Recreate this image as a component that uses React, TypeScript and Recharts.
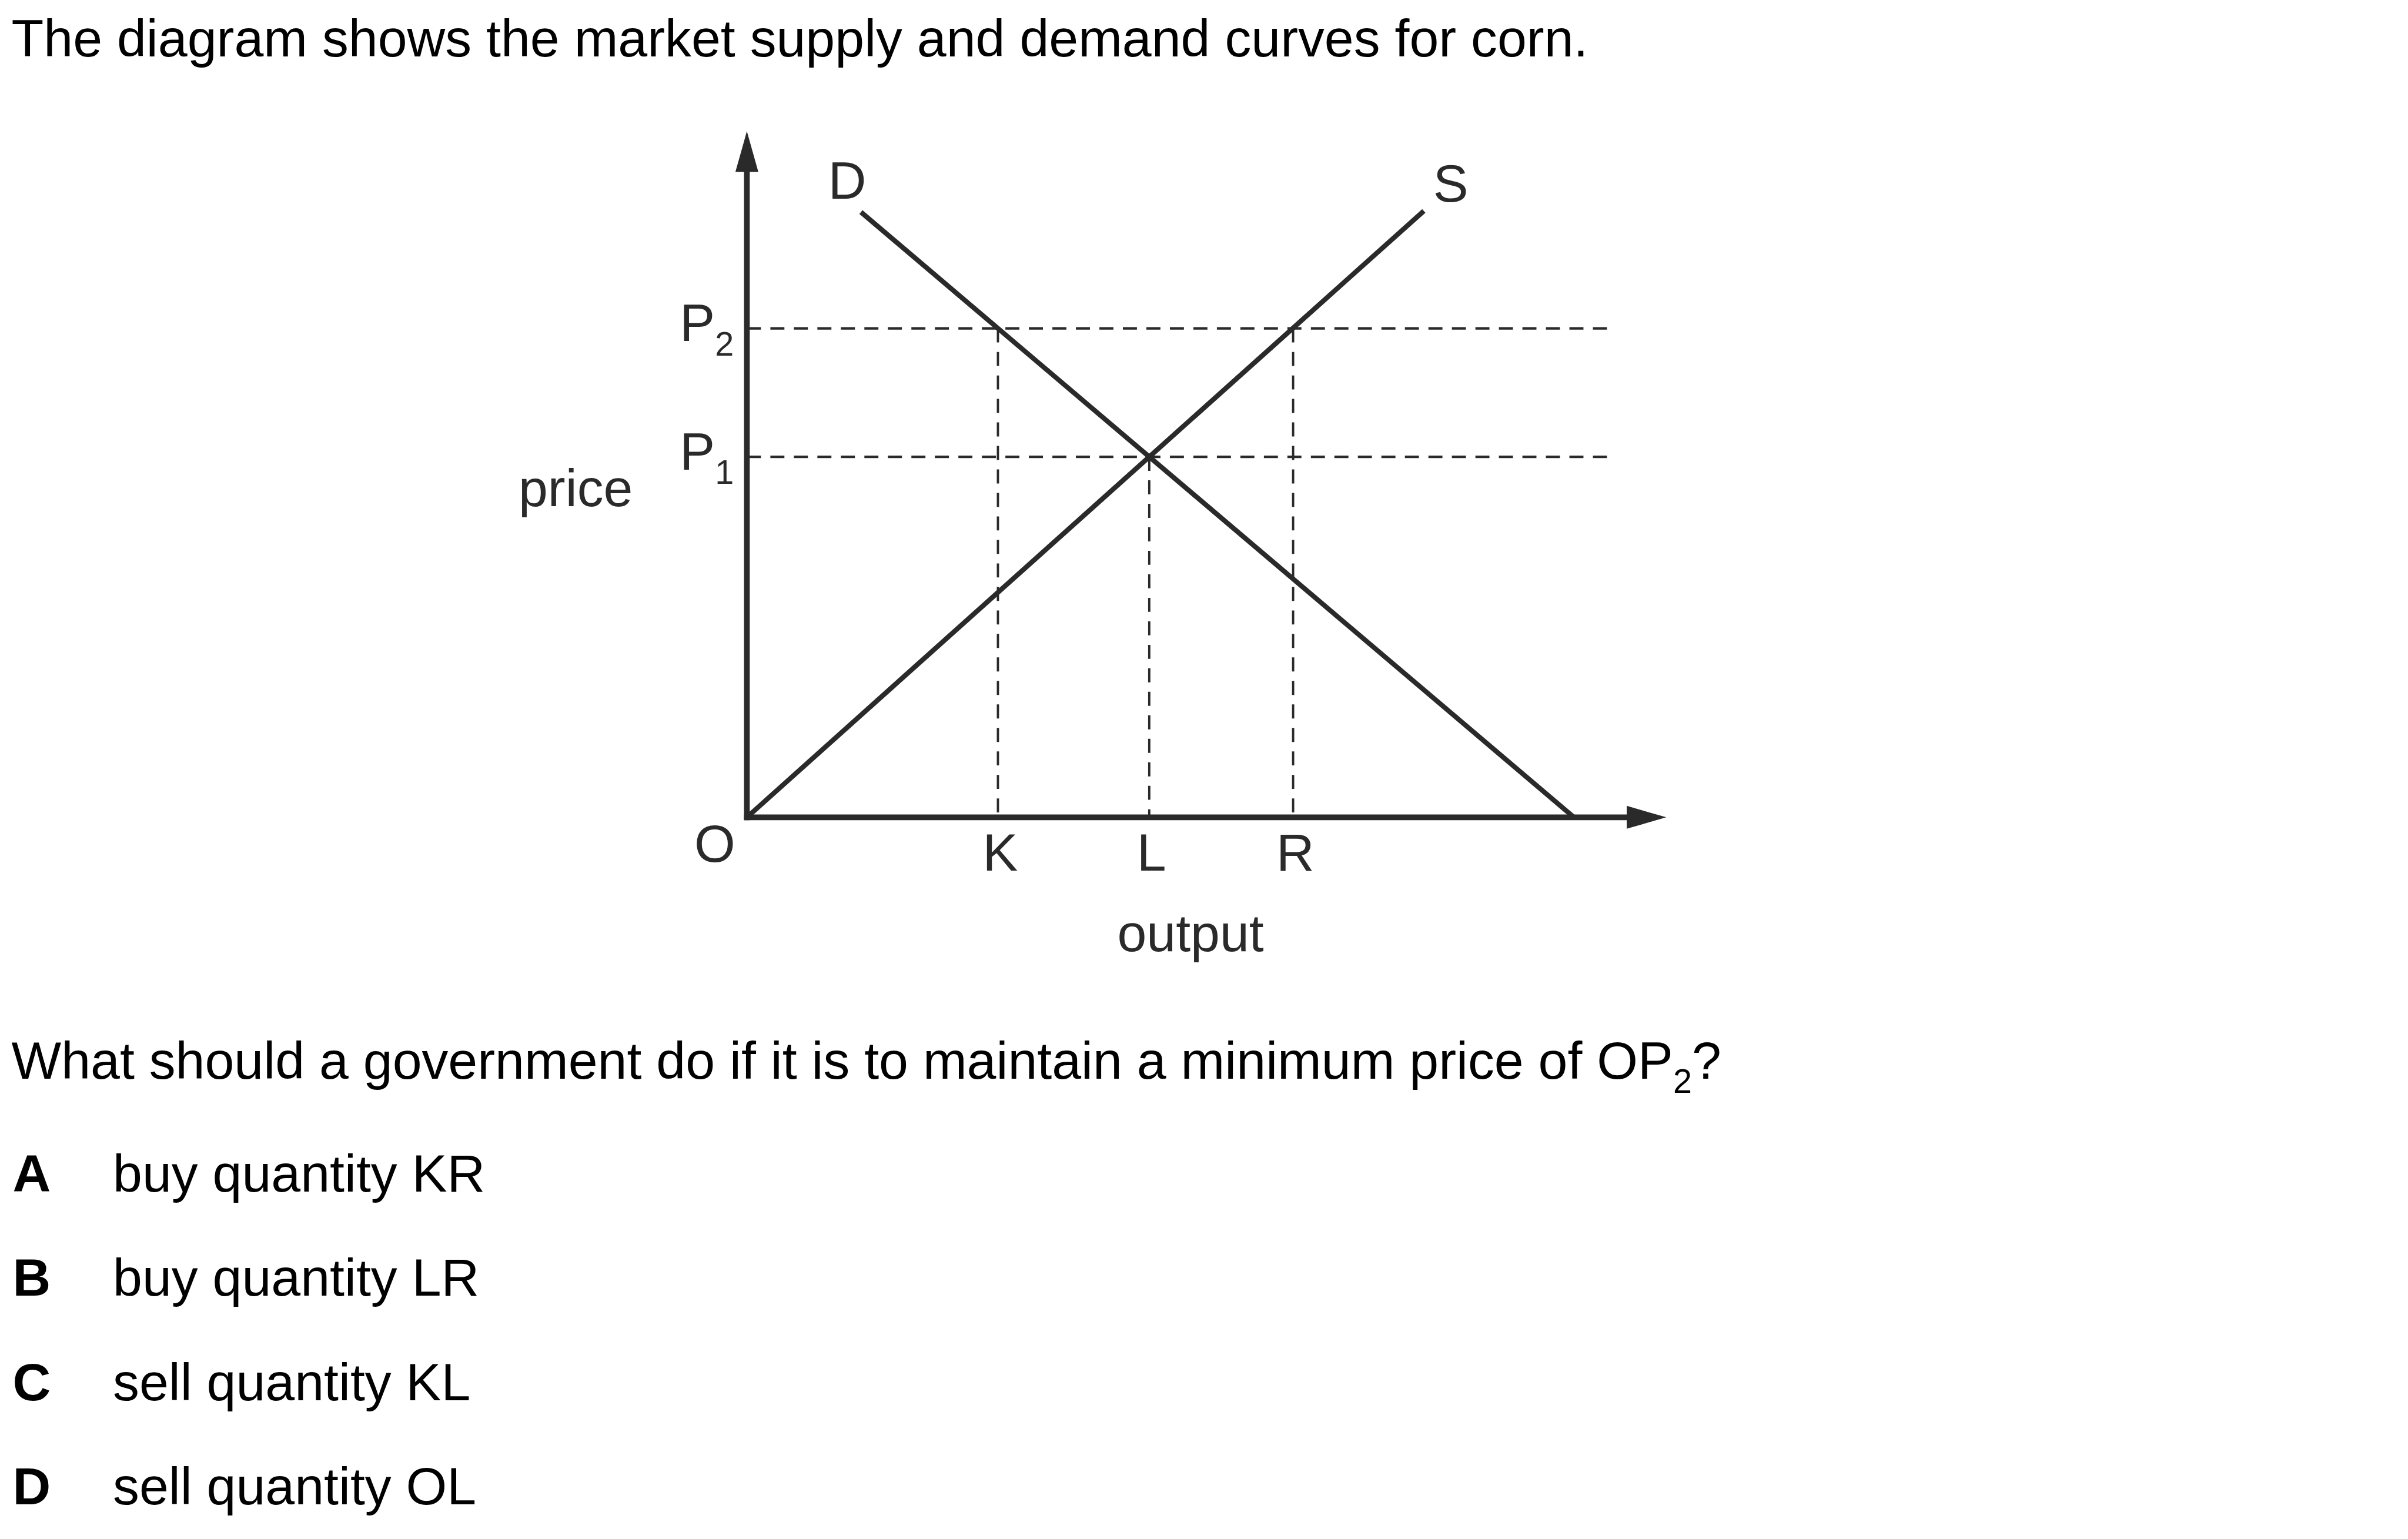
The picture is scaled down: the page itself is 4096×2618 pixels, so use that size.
import { LineChart, Line, XAxis, YAxis, ReferenceLine, ReferenceDot } from 'recharts'

// everything is drawn at 0.975 of the original figure
const S = 0.975
const r = (v: number) => v * S

// chart units: 1 unit = 10px of the original figure
const quantityTicks = [0, 43.8, 70.2, 95.3]
const quantityLabels = ['O', 'K', 'L', 'R']
const priceTicks = [62.9, 85.3]
const priceSubscripts = ['1', '2']

const demand = [
  { q: 19.9, p: 105.6 },
  { q: 144.3, p: 0 },
]
const supply = [
  { q: 0, p: 0 },
  { q: 118.1, p: 105.8 },
]

const qMax = 160.4
const pMax = 119.7
const guideEnd = 150.8

const optionLetters = ['A', 'B', 'C', 'D']
const optionTexts = ['buy quantity KR', 'buy quantity LR', 'sell quantity KL', 'sell quantity OL']

const W = 4096
const H = 2618
const FONT = '"Liberation Sans", Arial, Helvetica, sans-serif'
const INK = '#2a2a2a'
const TEXT_SIZE = r(92)
const SUB_SIZE = r(59)

const PLOT_LEFT = r(1303)
const PLOT_TOP = r(229)
const PLOT_BOTTOM = r(1426)
const PLOT_RIGHT = PLOT_LEFT + qMax * r(10)
const AXIS_W = 100
const AXIS_H = 100

const dash = `${r(24.5)} ${r(16.5)}`

const QuantityTick = (props: any) => {
  const { x, payload } = props
  const i = quantityTicks.indexOf(payload.value)
  const label = quantityLabels[i]
  if (i === 0) {
    return (
      <text x={x - r(56)} y={r(1504)} textAnchor="middle" fontFamily={FONT} fontSize={TEXT_SIZE} fill={INK}>
        {label}
      </text>
    )
  }
  return (
    <text x={x + r(4)} y={r(1519)} textAnchor="middle" fontFamily={FONT} fontSize={TEXT_SIZE} fill={INK}>
      {label}
    </text>
  )
}

const PriceTick = (props: any) => {
  const { y, payload } = props
  const i = priceTicks.indexOf(payload.value)
  return (
    <text x={r(1186)} y={y + r(22)} fontFamily={FONT} fontSize={TEXT_SIZE} fill={INK}>
      P
      <tspan fontSize={SUB_SIZE} dy={r(25)}>
        {priceSubscripts[i]}
      </tspan>
    </text>
  )
}

const curveLabel = (text: string, dx: number, dy: number) => (props: any) => (
  <text x={props.cx + r(dx)} y={props.cy + r(dy)} textAnchor="middle" fontFamily={FONT} fontSize={TEXT_SIZE} fill={INK}>
    {text}
  </text>
)

export default function App() {
  const [pLow, pHigh] = priceTicks
  const guides = [
    { q: quantityTicks[1], p: pHigh },
    { q: quantityTicks[2], p: pLow },
    { q: quantityTicks[3], p: pHigh },
  ]

  return (
    <div style={{ position: 'absolute', left: 0, top: 0, width: W, height: H, background: '#fff', overflow: 'hidden' }}>
      <div style={{ position: 'absolute', left: 0, top: 0 }}>
        <LineChart
          width={W}
          height={H}
          margin={{
            top: PLOT_TOP,
            left: PLOT_LEFT - AXIS_W,
            right: W - PLOT_RIGHT,
            bottom: H - PLOT_BOTTOM - AXIS_H,
          }}
        >
          <XAxis
            type="number"
            dataKey="q"
            domain={[0, qMax]}
            allowDataOverflow
            ticks={quantityTicks}
            interval={0}
            height={AXIS_H}
            axisLine={false}
            tickLine={false}
            tick={<QuantityTick />}
          />
          <YAxis
            type="number"
            domain={[0, pMax]}
            allowDataOverflow
            ticks={priceTicks}
            interval={0}
            width={AXIS_W}
            axisLine={false}
            tickLine={false}
            tick={<PriceTick />}
          />

          {/* dashed guides */}
          {priceTicks.map((p) => (
            <ReferenceLine
              key={'h' + p}
              segment={[{ x: 0, y: p }, { x: guideEnd, y: p }]}
              stroke={INK}
              strokeWidth={r(4.5)}
              strokeDasharray={dash}
              ifOverflow="visible"
            />
          ))}
          {guides.map((g) => (
            <ReferenceLine
              key={'v' + g.q}
              segment={[{ x: g.q, y: g.p }, { x: g.q, y: 0 }]}
              stroke={INK}
              strokeWidth={r(4)}
              strokeDasharray={dash}
              ifOverflow="visible"
            />
          ))}

          <Line data={demand} dataKey="p" stroke={INK} strokeWidth={r(8.5)} dot={false} isAnimationActive={false} />
          <Line data={supply} dataKey="p" stroke={INK} strokeWidth={r(8.5)} dot={false} isAnimationActive={false} />

          {/* axes with arrow heads */}
          <ReferenceLine
            segment={[{ x: -0.5, y: 0 }, { x: qMax - 6.5, y: 0 }]}
            stroke={INK}
            strokeWidth={r(10)}
            ifOverflow="visible"
          />
          <ReferenceLine
            segment={[{ x: 0, y: -0.5 }, { x: 0, y: pMax - 6.5 }]}
            stroke={INK}
            strokeWidth={r(10)}
            ifOverflow="visible"
          />
          <ReferenceDot
            x={qMax}
            y={0}
            ifOverflow="visible"
            shape={(p: any) => (
              <polygon
                points={`${p.cx},${p.cy} ${p.cx - r(69)},${p.cy - r(20)} ${p.cx - r(69)},${p.cy + r(20)}`}
                fill={INK}
              />
            )}
          />
          <ReferenceDot
            x={0}
            y={pMax}
            ifOverflow="visible"
            shape={(p: any) => (
              <polygon
                points={`${p.cx},${p.cy} ${p.cx - r(20)},${p.cy + r(71)} ${p.cx + r(20)},${p.cy + r(71)}`}
                fill={INK}
              />
            )}
          />

          {/* curve names */}
          <ReferenceDot x={demand[0].q} y={demand[0].p} ifOverflow="visible" shape={curveLabel('D', -24, -23)} />
          <ReferenceDot x={supply[1].q} y={supply[1].p} ifOverflow="visible" shape={curveLabel('S', 47, -16)} />
        </LineChart>
      </div>

      <svg width={W} height={H} style={{ position: 'absolute', left: 0, top: 0, pointerEvents: 'none' }}>
        <g fontFamily={FONT} fontSize={TEXT_SIZE} fill="#000">
          <text x={r(20)} y={r(98)}>The diagram shows the market supply and demand curves for corn.</text>
          <text x={r(1104)} y={r(883)} textAnchor="end" fill={INK}>price</text>
          <text x={r(2077)} y={r(1659)} textAnchor="middle" fill={INK}>output</text>
          <text x={r(20)} y={r(1882)}>
            What should a government do if it is to maintain a minimum price of OP
            <tspan fontSize={SUB_SIZE} dy={r(25)}>2</tspan>
            <tspan dy={-r(25)}>?</tspan>
          </text>
          {optionLetters.map((letter, i) => (
            <g key={letter}>
              <text x={r(22)} y={r(2079 + i * 182)} fontWeight="bold">{letter}</text>
              <text x={r(197)} y={r(2079 + i * 182)}>{optionTexts[i]}</text>
            </g>
          ))}
        </g>
      </svg>
    </div>
  )
}
